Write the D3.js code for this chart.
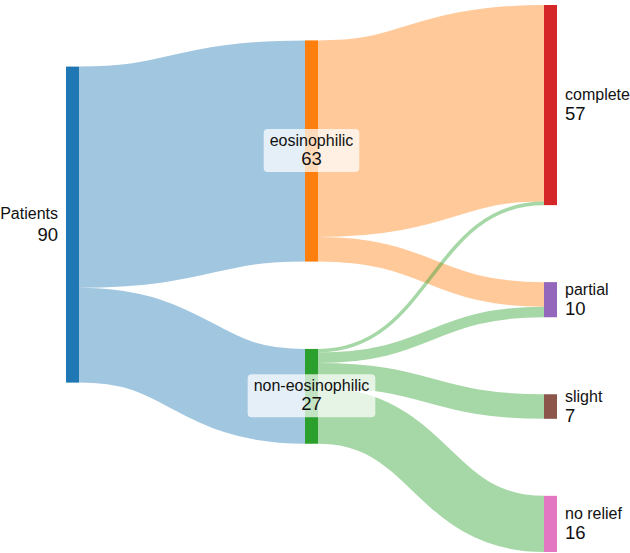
<!DOCTYPE html>
<html>
<head>
<meta charset="utf-8">
<script src="https://cdn.jsdelivr.net/npm/d3@7"></script>
<style>
    body { margin: 0; background: #fff; }
    #chart { width: 630px; height: 553px; }
    text { font-family: "Liberation Sans", Arial, Helvetica, sans-serif; fill: #111; }
</style>
</head>
<body>
<div id="chart"></div>
<script>

// nodes of the flow, in input order
const nodeNames = ["Patients", "eosinophilic", "non-eosinophilic", "complete", "partial", "slight", "no relief"];

// links: source -> target with number of patients
const linkSources = ["Patients", "Patients", "eosinophilic", "eosinophilic", "non-eosinophilic", "non-eosinophilic", "non-eosinophilic", "non-eosinophilic"];
const linkTargets = ["eosinophilic", "non-eosinophilic", "complete", "partial", "complete", "partial", "slight", "no relief"];
const linkValues = [63, 27, 56, 7, 1, 3, 7, 16];


/* * * * * * * * * * * * * *
*   small sankey layout    *
*  (classic d3-sankey,     *
*   nodes keep input order)*
* * * * * * * * * * * * * */

function sankeyLayout(nodes, links, opts) {
    let x0 = opts.x0, y0 = opts.y0, x1 = opts.x1, y1 = opts.y1;
    let dx = opts.nodeWidth, py = opts.nodePadding, iterations = opts.iterations;

    let byName = new Map(nodes.map(d => [d.name, d]));
    nodes.forEach((d, i) => { d.index = i; d.sourceLinks = []; d.targetLinks = []; });
    links.forEach((l, i) => {
        l.index = i;
        l.source = byName.get(l.source);
        l.target = byName.get(l.target);
        l.source.sourceLinks.push(l);
        l.target.targetLinks.push(l);
    });

    nodes.forEach(d => {
        d.value = Math.max(d3.sum(d.sourceLinks, l => l.value), d3.sum(d.targetLinks, l => l.value));
    });

    // depths
    let current = new Set(nodes), next = new Set(), x = 0;
    while (current.size) {
        for (const node of current) {
            node.depth = x;
            for (const l of node.sourceLinks) next.add(l.target);
        }
        x++;
        current = next;
        next = new Set();
    }

    // layers (justify)
    let n = d3.max(nodes, d => d.depth) + 1;
    let kx = (x1 - x0 - dx) / (n - 1);
    let columns = new Array(n);
    nodes.forEach(node => {
        let i = node.sourceLinks.length ? node.depth : n - 1;
        node.layer = i;
        node.x0 = x0 + i * kx;
        node.x1 = node.x0 + dx;
        if (columns[i]) columns[i].push(node); else columns[i] = [node];
    });

    let center = d => (d.y0 + d.y1) / 2;
    let ascendingBreadth = (a, b) => a.y0 - b.y0;

    // initial breadths
    let ky = d3.min(columns, c => (y1 - y0 - (c.length - 1) * py) / d3.sum(c, d => d.value));
    columns.forEach(col => {
        col.forEach((node, i) => {
            node.y0 = i;
            node.y1 = i + node.value * ky;
        });
        // a column that fills the whole height cannot move
        col.locked = d3.sum(col, d => d.value) * ky + (col.length - 1) * py >= y1 - y0 - 1e-6;
    });
    links.forEach(l => { l.width = l.value * ky; });

    function resolveCollisions() {
        columns.forEach(col => {
            let node, d, y = y0;
            for (let i = 0; i < col.length; ++i) {
                node = col[i];
                d = y - node.y0;
                if (d > 0) { node.y0 += d; node.y1 += d; }
                y = node.y1 + py;
            }
            d = y - py - y1;
            if (d > 0) {
                node.y0 -= d; node.y1 -= d;
                y = node.y0;
                for (let i = col.length - 2; i >= 0; --i) {
                    node = col[i];
                    d = node.y1 + py - y;
                    if (d > 0) { node.y0 -= d; node.y1 -= d; }
                    y = node.y0;
                }
            }
        });
    }

    function relaxLeftToRight(alpha) {
        columns.forEach(col => {
            if (col.locked) return;
            col.forEach(node => {
                if (node.targetLinks.length) {
                    let d = (d3.sum(node.targetLinks, l => center(l.source) * l.value)
                        / d3.sum(node.targetLinks, l => l.value) - center(node)) * alpha;
                    node.y0 += d; node.y1 += d;
                }
            });
        });
    }

    function relaxRightToLeft(alpha) {
        columns.slice().reverse().forEach(col => {
            if (col.locked) return;
            col.forEach(node => {
                if (node.sourceLinks.length) {
                    let d = (d3.sum(node.sourceLinks, l => center(l.target) * l.value)
                        / d3.sum(node.sourceLinks, l => l.value) - center(node)) * alpha;
                    node.y0 += d; node.y1 += d;
                }
            });
        });
    }

    resolveCollisions();
    for (let alpha = 1, k = iterations; k > 0; --k) {
        relaxLeftToRight(alpha *= 0.99);
        relaxRightToLeft(alpha);
        resolveCollisions();
    }

    // link ends
    nodes.forEach(node => {
        node.sourceLinks.sort((a, b) => ascendingBreadth(a.target, b.target));
        node.targetLinks.sort((a, b) => ascendingBreadth(a.source, b.source));
    });
    nodes.forEach(node => {
        let ys = node.y0, yt = node.y0;
        node.sourceLinks.forEach(l => { l.y0 = ys + l.width / 2; ys += l.width; });
        node.targetLinks.forEach(l => { l.y1 = yt + l.width / 2; yt += l.width; });
    });

    return {nodes: nodes, links: links};
}


/* * * * * * * * * * * * * *
*     class SankeyVis      *
* * * * * * * * * * * * * */

class SankeyVis {

    constructor(parentElement) {
        this.parentElement = parentElement;
        this.initVis();
    }

    initVis() {
        let vis = this;

        vis.width = 630;
        vis.height = 553;

        vis.svg = d3.select("#" + vis.parentElement).append("svg")
            .attr("width", vis.width)
            .attr("height", vis.height);

        vis.color = d3.scaleOrdinal()
            .domain(nodeNames)
            .range(d3.schemeCategory10);

        vis.wrangleData();
    }

    wrangleData() {
        let vis = this;

        let nodes = nodeNames.map(d => ({name: d}));
        let links = linkSources.map((s, i) => ({source: s, target: linkTargets[i], value: linkValues[i]}));

        vis.graph = sankeyLayout(nodes, links, {
            x0: 66, y0: 5, x1: 557, y1: 552,
            nodeWidth: 13, nodePadding: 77, iterations: 40
        });

        vis.updateVis();
    }

    updateVis() {
        let vis = this;
        let maxLayer = d3.max(vis.graph.nodes, d => d.layer);

        let linkPath = d3.linkHorizontal()
            .source(d => [d.source.x1, d.y0])
            .target(d => [d.target.x0, d.y1]);

        // links
        vis.svg.append("g")
            .attr("fill", "none")
            .selectAll(".link")
            .data(vis.graph.links)
            .enter().append("path")
            .attr("class", "link")
            .attr("d", linkPath)
            .attr("stroke", d => vis.color(d.source.name))
            .attr("stroke-opacity", 0.42)
            .attr("stroke-width", d => Math.max(1, d.width));

        // nodes
        vis.svg.append("g")
            .selectAll(".node")
            .data(vis.graph.nodes)
            .enter().append("rect")
            .attr("class", "node")
            .attr("x", d => d.x0)
            .attr("y", d => d.y0)
            .attr("width", d => d.x1 - d.x0)
            .attr("height", d => d.y1 - d.y0)
            .attr("fill", d => vis.color(d.name));

        // labels
        let label = vis.svg.append("g")
            .selectAll(".label")
            .data(vis.graph.nodes)
            .enter().append("g")
            .attr("class", "label");

        label.each(function(d) {
            let g = d3.select(this);
            let cy = (d.y0 + d.y1) / 2;
            let middle = d.layer !== 0 && d.layer !== maxLayer;
            let x, anchor;
            if (d.layer === 0) { x = d.x0 - 8; anchor = "end"; }
            else if (d.layer === maxLayer) { x = d.x1 + 8; anchor = "start"; }
            else { x = (d.x0 + d.x1) / 2; anchor = "middle"; }

            let t = g.append("text")
                .attr("text-anchor", anchor);
            t.append("tspan")
                .attr("x", x)
                .attr("y", cy - (d.layer === 0 ? 6 : 5))
                .style("font-size", "16px")
                .text(d.name);
            t.append("tspan")
                .attr("x", x)
                .attr("y", cy + (d.layer === 0 ? 16 : middle ? 14 : 15))
                .style("font-size", "18.5px")
                .text(d.value);

            // middle column gets a soft white box behind its label
            if (middle) {
                let bb = t.node().getBBox();
                g.insert("rect", "text")
                    .attr("x", bb.x - 6)
                    .attr("y", bb.y - 3)
                    .attr("width", bb.width + 12)
                    .attr("height", bb.height + 6)
                    .attr("rx", 4)
                    .attr("fill", "#fff")
                    .attr("fill-opacity", 0.72);
            }
        });
    }
}

let sankeyVis = new SankeyVis("chart");

</script>
</body>
</html>
